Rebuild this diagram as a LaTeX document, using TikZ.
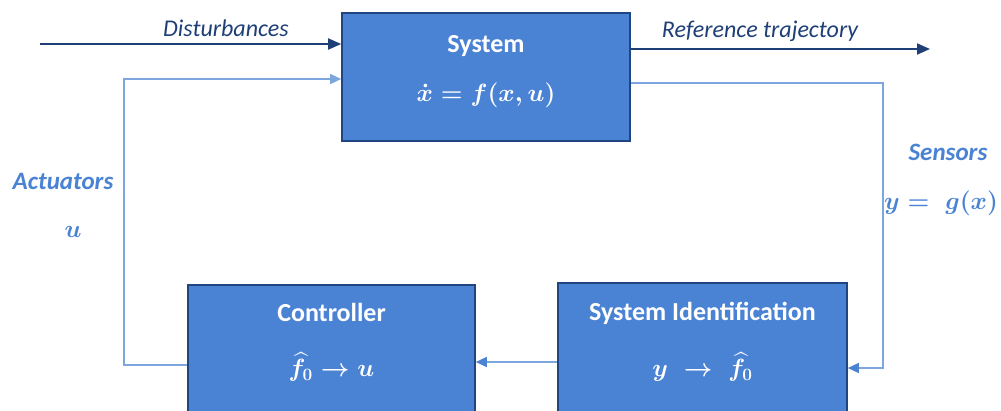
\documentclass[tikz,border=0pt]{standalone}
\usepackage{fontspec}
\usepackage{amsmath}
\setmainfont{Carlito}
\usetikzlibrary{arrows.meta,calc}
\definecolor{boxfill}{RGB}{74,130,212}
\definecolor{boxedge}{RGB}{31,70,130}
\definecolor{navy}{RGB}{31,63,119}
\definecolor{paleline}{RGB}{126,166,222}
\definecolor{labelblue}{RGB}{74,130,212}
\tikzset{
  blockbox/.style={draw=boxedge, line width=1.6pt, fill=boxfill, rectangle, inner sep=0pt},
  blocktitle/.style={text=white, font=\fontsize{26}{30}\selectfont\bfseries, inner sep=1pt},
  blockmath/.style={text=white, font=\fontsize{23}{26}\selectfont\boldmath, inner sep=1pt},
  mainarrow/.style={draw=navy, line width=1.8pt, -{Triangle[length=13pt,width=11pt]}},
  loopline/.style={draw=paleline, line width=1.4pt},
  looparrow/.style={loopline, -{Triangle[length=11pt,width=10pt,fill=boxfill,color=boxfill]}},
  palearrow/.style={loopline, -{Triangle[length=11pt,width=10pt,fill=paleline,color=paleline]}},
  flowlabel/.style={text=navy, font=\fontsize{24}{28}\selectfont\itshape, inner sep=1pt},
  sidelabel/.style={text=labelblue, font=\fontsize{25}{29}\selectfont\bfseries\itshape, inner sep=1pt},
  sidemath/.style={text=labelblue, font=\fontsize{23}{26}\selectfont\boldmath, inner sep=1pt},
}
\begin{document}
\begin{tikzpicture}[x=1pt,y=-1pt]
\clip (0,0) rectangle (1001,410);
\fill[white] (0,0) rectangle (1001,410);

% blocks
\node[blockbox, minimum width=288pt, minimum height=128pt] (sys) at (486,77) {};
\node[blockbox, minimum width=287pt, minimum height=130pt] (ctrl) at (331.5,350) {};
\node[blockbox, minimum width=289pt, minimum height=132pt] (sid) at (702.5,349) {};

% block contents
\node[blocktitle] (systitle) at (486,46) {System};
\node[blockmath] (sysmath) at (486,95) {$\dot{x} = f(x,u)$};
\node[blocktitle] (ctrltitle) at (331.5,312) {Controller};
\node[blockmath] (ctrlmath) at (331.5,367) {$\widehat{f}_0 \rightarrow u$};
\node[blocktitle] (sidtitle) at (702.5,313) {System Identification};
\node[blockmath] (sidmath) at (702.5,367) {$y \;\rightarrow\; \widehat{f}_0$};

% free ends and corners of the connectors
\coordinate (dstart) at (40,44);
\coordinate (rend) at (930,49);
\coordinate (actcorner) at (124,365);
\coordinate (actin) at (124,79);
\coordinate (senout) at (630,83);
\coordinate (sencorner) at (883,368);
\coordinate (sidout) at (558,362);

% external signals
\draw[mainarrow] (dstart) -- (dstart -| sys.west);
\draw[mainarrow] (rend -| sys.east) -- (rend);
\node[flowlabel] (dlabel) at (226,28) {Disturbances};
\node[flowlabel] (rlabel) at (760,31) {Reference trajectory};

% feedback loop
\draw[palearrow] (actcorner -| ctrl.west) -- (actcorner) -- (actin) -- (actin -| sys.west);
\draw[looparrow] (senout -| sys.east) -| (sencorner) -- (sencorner -| sid.east);
\draw[looparrow] (sidout -| sid.west) -- (sidout -| ctrl.east);

% loop labels
\node[sidelabel] (actlabel) at (63,181) {Actuators};
\node[sidemath] (actmath) at (73,232) {$u$};
\node[sidelabel] (senlabel) at (948,152) {Sensors};
\node[sidemath] (senmath) at (941,203) {$y =\; g(x)$};
\end{tikzpicture}
\end{document}
